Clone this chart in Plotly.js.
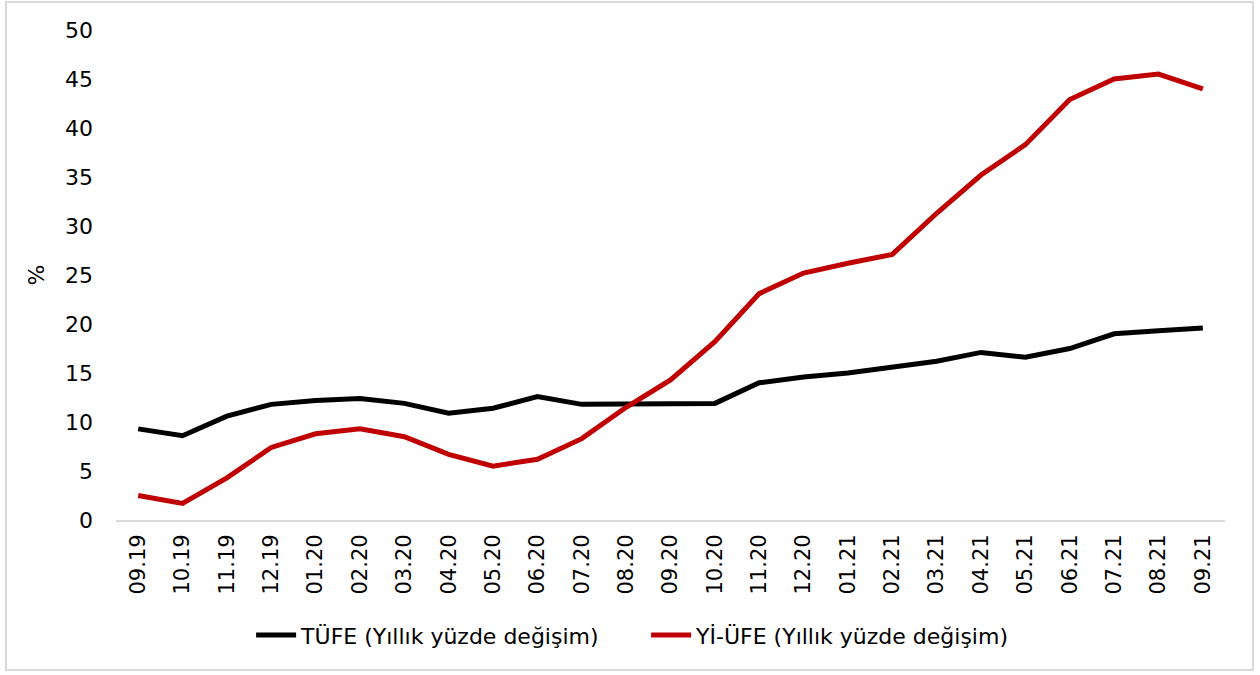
<!DOCTYPE html>
<html>
<head>
<meta charset="utf-8">
<script src="https://cdn.plot.ly/plotly-3.0.1.min.js"></script>
<style>
  body { margin: 0; background: #fff; }
  #chart { width: 1260px; height: 675px; }
</style>
</head>
<body>
<div id="chart"></div>
<script>
const months = [
  "09.19", "10.19", "11.19", "12.19", "01.20", "02.20", "03.20", "04.20", "05.20",
  "06.20", "07.20", "08.20", "09.20", "10.20", "11.20", "12.20", "01.21", "02.21",
  "03.21", "04.21", "05.21", "06.21", "07.21", "08.21", "09.21"
];

// TÜFE, yearly % change
const tufe = [
  9.3, 8.6, 10.6, 11.8, 12.2, 12.4, 11.9, 10.9, 11.4,
  12.6, 11.8, 11.8, 11.8, 11.9, 14.0, 14.6, 15.0, 15.6,
  16.2, 17.1, 16.6, 17.5, 19.0, 19.3, 19.6
];

// Yİ-ÜFE, yearly % change
const yiUfe = [
  2.5, 1.7, 4.3, 7.4, 8.8, 9.3, 8.5, 6.7, 5.5,
  6.2, 8.3, 11.5, 14.3, 18.2, 23.1, 25.2, 26.2, 27.1,
  31.3, 35.2, 38.3, 42.9, 45.0, 45.5, 44.0
];

const font = "'DejaVu Sans', sans-serif";

const traces = [
  {
    x: months,
    y: tufe,
    name: "TÜFE (Yıllık yüzde değişim)",
    mode: "lines",
    type: "scatter",
    line: { color: "#000000", width: 5 }
  },
  {
    x: months,
    y: yiUfe,
    name: "Yİ-ÜFE (Yıllık yüzde değişim)",
    mode: "lines",
    type: "scatter",
    line: { color: "#c00000", width: 5 }
  }
];

const layout = {
  width: 1260,
  height: 675,
  paper_bgcolor: "#ffffff",
  plot_bgcolor: "#ffffff",
  font: { family: font, size: 22, color: "#000000" },
  margin: { l: 116, r: 35, t: 30, b: 155 },
  showlegend: true,
  legend: {
    orientation: "h",
    x: 0.478,
    xanchor: "center",
    y: -0.235,
    yanchor: "middle",
    font: { family: font, size: 22 },
    itemwidth: 40,
    entrywidth: 340,
    entrywidthmode: "pixels"
  },
  xaxis: {
    type: "category",
    range: [-0.5, 24.5],
    tickangle: -90,
    showgrid: false,
    showline: true,
    linecolor: "#d9d9d9",
    linewidth: 2,
    ticks: "",
    ticklabelstandoff: 4,
    tickfont: { family: font, size: 21 }
  },
  yaxis: {
    range: [0, 50],
    dtick: 5,
    showgrid: false,
    zeroline: false,
    ticks: "",
    ticklabelstandoff: 22,
    tickfont: { family: font, size: 22 },
    title: { text: "%", font: { family: font, size: 22 }, standoff: 14 }
  },
  shapes: [
    {
      type: "rect",
      xref: "paper",
      yref: "paper",
      x0: -0.0992,
      x1: 1.0252,
      y0: -0.306,
      y1: 1.057,
      line: { color: "#d9d9d9", width: 2 },
      fillcolor: "rgba(0,0,0,0)"
    }
  ]
};

Plotly.newPlot("chart", traces, layout, {
  displayModeBar: false,
  staticPlot: true
});
</script>
</body>
</html>
